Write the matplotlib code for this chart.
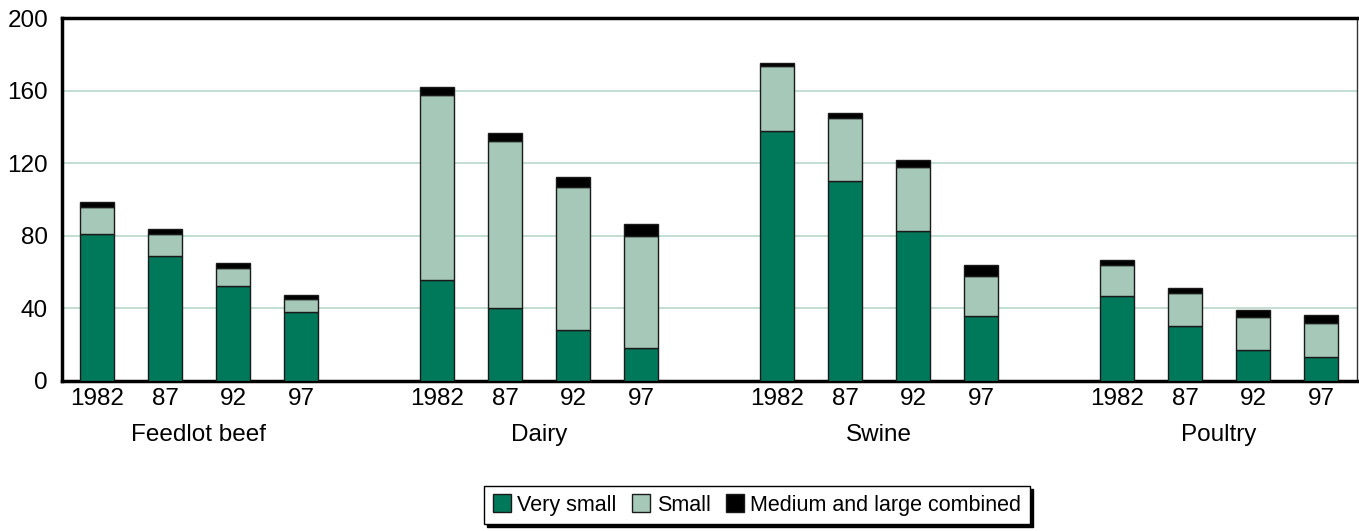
import numpy as np
import matplotlib.pyplot as plt
from matplotlib.transforms import blended_transform_factory

plt.rcParams['font.family'] = ['Liberation Sans', 'DejaVu Sans']

groups = ['Feedlot beef', 'Dairy', 'Swine', 'Poultry']
years = ['1982', '87', '92', '97']

# values per group, in order 1982, 87, 92, 97
very_small = [81, 69, 52.5, 38,
              55.5, 40, 28, 18,
              137.7, 110, 82.6, 36,
              47, 30.3, 17.3, 13]
small = [15, 12, 9.5, 7,
         102.3, 92, 79, 62,
         36, 35, 35.3, 22,
         17, 18, 18, 19]
med_large = [2.6, 2.7, 2.8, 2.5,
             4, 4.8, 5.3, 6.7,
             1.7, 2.7, 3.9, 6,
             2.6, 3.1, 4, 4.2]

GREEN = '#00785a'
LIGHT = '#a6c8b8'
GRID = '#b9d8cb'

fig = plt.figure(figsize=(13.59, 5.31), dpi=100)
ax = fig.add_axes([0.0456, 0.2825, 0.953, 0.6835])

x = np.array([g * 5 + i for g in range(len(groups)) for i in range(len(years))])
vs = np.array(very_small)
sm = np.array(small)
ml = np.array(med_large)

w = 0.5
ax.bar(x, vs, w, color=GREEN, edgecolor='#1a1a1a', linewidth=1, label='Very small', zorder=3)
ax.bar(x, sm, w, bottom=vs, color=LIGHT, edgecolor='#1a1a1a', linewidth=1, label='Small', zorder=3)
ax.bar(x, ml, w, bottom=vs + sm, color='black', edgecolor='#1a1a1a', linewidth=1,
       label='Medium and large combined', zorder=3)

ax.set_ylim(0, 200)
ax.set_xlim(-0.515, 18.53)
ax.set_yticks([0, 40, 80, 120, 160, 200])
ax.yaxis.grid(True, color=GRID, linewidth=1.2, zorder=0)
ax.set_axisbelow(True)

ax.set_xticks(x)
ax.set_xticklabels(years * len(groups))
ax.tick_params(axis='both', length=0, labelsize=17.5)
ax.tick_params(axis='y', pad=10)
ax.tick_params(axis='x', pad=5)

for side in ['left', 'bottom', 'top']:
    ax.spines[side].set_linewidth(2.5)
    ax.spines[side].set_color('black')
ax.spines['right'].set_linewidth(1)
ax.spines['right'].set_color('#333333')

trans = blended_transform_factory(ax.transData, ax.transAxes)
for g, name in enumerate(groups):
    ax.text(g * 5 + 1.5, -0.149, name, transform=trans, ha='center', va='center', fontsize=17.5)

handles, labels = ax.get_legend_handles_labels()
leg = fig.legend(handles, labels, loc='center', bbox_to_anchor=(0.557, 0.049), ncol=3,
                 fontsize=15.5, frameon=True, fancybox=False, shadow={'color': 'black', 'alpha': 1},
                 handlelength=0.85, handleheight=0.85, handletextpad=0.3, columnspacing=0.7,
                 borderpad=0.4)
leg.get_frame().set_edgecolor('black')
leg.get_frame().set_linewidth(1)

fig.savefig('out.png', dpi=100)
